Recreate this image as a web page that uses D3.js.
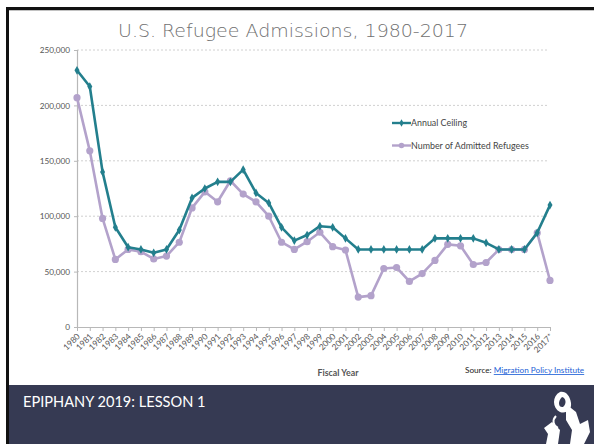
<!DOCTYPE html>
<html><head><meta charset="utf-8">
<script src="https://cdn.jsdelivr.net/npm/d3@7"></script>
<style>
html,body{margin:0;padding:0;background:#fff;}
svg{display:block;}
</style></head>
<body>
<svg id="c" width="594" height="444"></svg>
<script>
const years = ["1980","1981","1982","1983","1984","1985","1986","1987","1988","1989","1990","1991","1992","1993","1994","1995","1996","1997","1998","1999","2000","2001","2002","2003","2004","2005","2006","2007","2008","2009","2010","2011","2012","2013","2014","2015","2016","2017*"];
const annualCeiling = [231700,217000,140000,90000,72000,70000,67000,70000,87500,116500,125000,131000,131000,142000,121000,112000,90000,78000,83000,91000,90000,80000,70000,70000,70000,70000,70000,70000,80000,80000,80000,80000,76000,70000,70000,70000,85000,110000];
const admitted = [207000,159000,98000,61000,70000,68000,61400,64000,76500,107500,122000,113000,132000,120000,113000,100000,76500,70000,77000,85500,72500,69500,27000,28300,52800,53700,41100,48200,60100,74600,73300,56400,58200,69900,69900,70000,84900,42000];
const yTicks = [0,50000,100000,150000,200000,250000];
const seriesNames = ["Annual Ceiling","Number of Admitted Refugees"];

const svg = d3.select("#c");
const teal = "#237f8d", lav = "#b3a2cb";
const FONT = "Lato, 'Open Sans', sans-serif";

// slide frame
svg.append("rect").attr("x",0).attr("y",0).attr("width",594).attr("height",444).attr("fill","#fff");
svg.append("rect").attr("x",9).attr("y",385).attr("width",585).attr("height",59).attr("fill","#363a53");
svg.append("rect").attr("x",6).attr("y",7).attr("width",588).attr("height",3).attr("fill","#111");
svg.append("rect").attr("x",6).attr("y",7).attr("width",3).attr("height",437).attr("fill","#111");
svg.append("line").attr("x1",9).attr("x2",594).attr("y1",10.5).attr("y2",10.5).attr("stroke","#999").attr("stroke-width",0.6);

const x = d3.scalePoint().domain(years).range([77,550]);
const y = d3.scaleLinear().domain([0,250000]).range([327,50]);

// gridlines
svg.append("g").selectAll("line").data(yTicks.filter(d=>d>0)).join("line")
  .attr("x1",77).attr("x2",549).attr("y1",d=>y(d)).attr("y2",d=>y(d))
  .attr("stroke","#c4c4c4").attr("stroke-width",0.8).attr("stroke-dasharray","2,2");

// y axis
const ya = svg.append("g").attr("transform","translate(77,0)")
  .call(d3.axisLeft(y).tickValues(yTicks).tickSize(3).tickPadding(4).tickFormat(d3.format(",")));
ya.select(".domain").attr("stroke","#b8b8b8").attr("stroke-width",1.2);
ya.selectAll(".tick line").attr("stroke","#b8b8b8");
ya.selectAll("text").attr("font-family",FONT).attr("font-size",8.2).attr("fill","#555");

// x axis
const xa = svg.append("g").attr("transform","translate(0,327)")
  .call(d3.axisBottom(x).tickSize(4).tickSizeOuter(0));
xa.select(".domain").attr("stroke","#b8b8b8").attr("stroke-width",1.2);
xa.selectAll(".tick line").attr("stroke","#b8b8b8");
xa.selectAll("text").attr("font-family",FONT).attr("font-size",8.4).attr("fill","#555")
  .attr("text-anchor","end").attr("dy",0).attr("y",0)
  .attr("transform","translate(3,10) rotate(-45)");

// lines
const line = d3.line().x((d,i)=>x(years[i])).y(d=>y(d));
svg.append("path").datum(admitted).attr("d",line).attr("fill","none").attr("stroke",lav).attr("stroke-width",2.6).attr("stroke-linejoin","round");
svg.append("g").selectAll("circle").data(admitted).join("circle")
  .attr("cx",(d,i)=>x(years[i])).attr("cy",d=>y(d)).attr("r",3.6).attr("fill",lav);
svg.append("path").datum(annualCeiling).attr("d",line).attr("fill","none").attr("stroke",teal).attr("stroke-width",2.6).attr("stroke-linejoin","round");
svg.append("g").selectAll("path").data(annualCeiling).join("path")
  .attr("d",d3.symbol(d3.symbolDiamond,22)).attr("transform",(d,i)=>`translate(${x(years[i])},${y(d)})`).attr("fill",teal);

// legend
const lg = svg.append("g").attr("transform","translate(392,0)");
[[teal,123],[lav,145.5]].forEach((s,i)=>{
  lg.append("line").attr("x1",0).attr("x2",19).attr("y1",s[1]).attr("y2",s[1]).attr("stroke",s[0]).attr("stroke-width",2.4);
  if(i===0) lg.append("path").attr("d",d3.symbol(d3.symbolDiamond,16)).attr("transform",`translate(9.5,${s[1]})`).attr("fill",s[0]);
  else lg.append("circle").attr("cx",9.5).attr("cy",s[1]).attr("r",2.8).attr("fill",s[0]);
  lg.append("text").attr("x",19).attr("y",s[1]+3).text(seriesNames[i])
    .attr("font-family",FONT).attr("font-size",8.9).attr("fill","#444");
});

// title
svg.append("text").attr("x",293).attr("y",37).attr("text-anchor","middle")
  .attr("font-family","'DejaVu Sans', sans-serif").attr("font-weight",300).attr("font-size",18).attr("fill","#707070")
  .attr("textLength",350).attr("lengthAdjust","spacingAndGlyphs")
  .text("U.S. Refugee Admissions, 1980-2017");

// axis title
svg.append("text").attr("x",338).attr("y",376).attr("text-anchor","middle")
  .attr("font-family",FONT).attr("font-weight",700).attr("font-size",8.8).attr("fill","#555")
  .text("Fiscal Year");

// source
const src = svg.append("text").attr("x",465).attr("y",373)
  .attr("font-family",FONT).attr("font-size",8.2).attr("fill","#222");
src.append("tspan").text("Source: ");
src.append("tspan").attr("fill","#1d5fd6").attr("text-decoration","underline").text("Migration Policy Institute");

// footer
svg.append("text").attr("x",23).attr("y",407)
  .attr("font-family",FONT).attr("font-size",14.6).attr("fill","#fff")
  .text("EPIPHANY 2019: LESSON 1");

// logo (stylised)
const logo = svg.append("g").attr("fill","#fff").attr("stroke","#fff");
logo.append("path").attr("d","M560,392 C552,396 552,408 560,412 C566,414 572,410 571,403 C570,396 566,391 560,392 Z M562,397 C566,398 567,404 563,407 C559,408 557,402 562,397 Z").attr("fill-rule","evenodd").attr("stroke","none");
logo.append("path").attr("d","M566,404 L576,412 L580,424 L588,420 L590,432 L584,444 L570,444 L572,430 L566,420 Z").attr("stroke","none");
logo.append("path").attr("d","M544,428 L552,422 L560,430 L558,444 L546,444 L548,434 Z").attr("stroke","none");
logo.append("path").attr("d","M556,416 C552,420 553,426 558,428").attr("fill","none").attr("stroke-width",2);
</script>
</body></html>
